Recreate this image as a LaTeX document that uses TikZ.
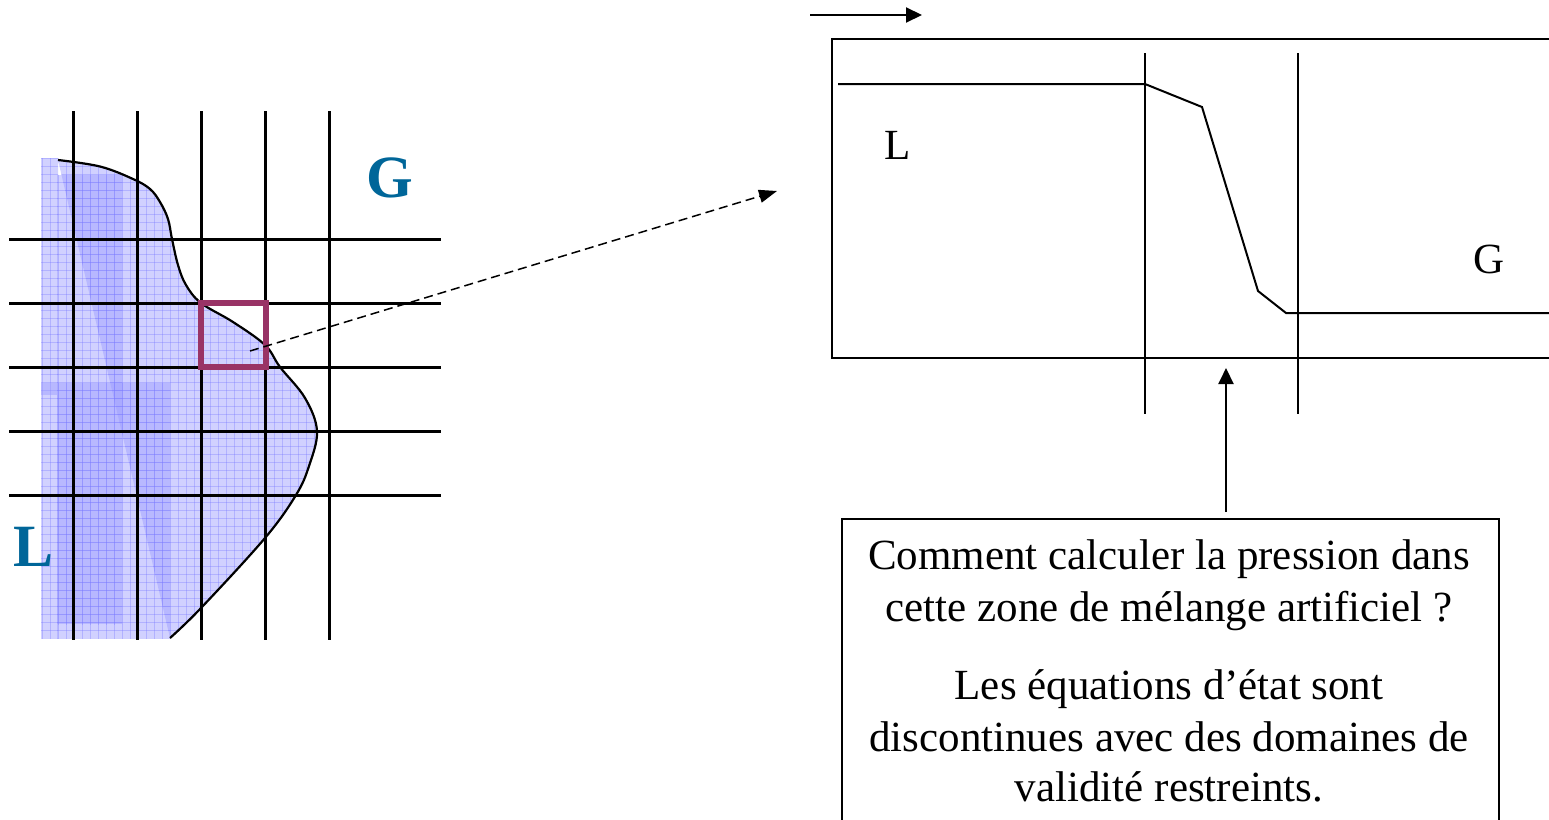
\documentclass[tikz,border=0pt]{standalone}
\usepackage{fontspec}
\setmainfont{Liberation Serif}
\usetikzlibrary{arrows.meta}
\definecolor{lblue}{RGB}{153,153,255}
\definecolor{gridfine}{RGB}{120,120,255}
\definecolor{labblue}{RGB}{0,102,153}
\definecolor{sqred}{RGB}{153,51,102}
\tikzset{
  layer/.style={fill=lblue, fill opacity=0.45},
  finegrid/.style={path picture={
    \foreach \k in {0,...,36}{\draw[gridfine, line width=0.6pt, draw opacity=0.35] ({42+8*\k},150) -- ({42+8*\k},650);}
    \foreach \k in {0,...,62}{\draw[gridfine, line width=0.6pt, draw opacity=0.35] (30,{158+8*\k}) -- (340,{158+8*\k});}
  }},
  meshline/.style={line width=3pt, black},
  frameline/.style={line width=2pt, black},
  bigtext/.style={font=\fontsize{43}{52}\selectfont, inner sep=0pt},
  phase/.style={font=\fontsize{60}{72}\selectfont\bfseries, text=labblue, inner sep=0pt},
  bigarrow/.style={-{Triangle[length=16pt,width=15pt]}, line width=2pt}
}
\begin{document}
\begin{tikzpicture}[x=1pt,y=-1pt]
\useasboundingbox (0,0) rectangle (1549,819);
\clip (0,0) rectangle (1549,819);

% ---- left: interface cells ----
\def\blobpts{(58,160) (100,166.5) (133,179) (150,189) (160,202) (168,219) (172,239) (178,265) (186,285) (201,303) (233,322) (265,345) (280,367) (305,398) (317,431) (309,466) (296,495) (265,538) (201,608) (170,638)}
\fill[layer, finegrid] (41,158) rectangle (58,638);
\fill[layer, finegrid] plot[smooth, tension=0.6] coordinates {\blobpts} -- cycle;
\fill[layer, finegrid] (57,175) rectangle (122,624);
\fill[layer, finegrid] (57,383) rectangle (170,638);
\fill[layer] (41,383) rectangle (57,395);
\draw[line width=2.2pt] plot[smooth, tension=0.6] coordinates {\blobpts};

\foreach \xx in {73,137,201,265,329}{\draw[meshline] (\xx,111) -- (\xx,640);}
\foreach \yy in {239,303,367,431,495}{\draw[meshline] (9,\yy) -- (441,\yy);}

\node[draw=sqred, line width=6pt, minimum size=64.5pt, inner sep=0pt] (sq) at (233.5,335) {};

\node[phase, anchor=base] (gleft) at (390,197) {G};
\node[phase, anchor=base] (lleft) at (34,566) {L};

\coordinate (ds) at (250,351);
\coordinate (de) at (777,191);
\draw[line width=1.5pt, dash pattern=on 9pt off 5pt, -{Triangle[length=18pt,width=13pt]}] (ds) -- (de);

% ---- right: zoomed profile ----
\draw[frameline] (832,39) rectangle (1580,358);
\coordinate (v1t) at (1145,53);
\coordinate (v1b) at (1145,414);
\coordinate (v2t) at (1298,53);
\coordinate (v2b) at (1298,414);
\draw[line width=2.5pt] (v1t) -- (v1b);
\draw[line width=2.5pt] (v2t) -- (v2b);
\draw[frameline, line join=miter] (838,84) -- (1145,84) -- (1202,107) -- (1258,291) -- (1286,313) -- (1580,313);

\node[bigtext, anchor=base] (lright) at (898,159) {L};
\node[bigtext, anchor=base] (gright) at (1489,273) {G};

\coordinate (ta) at (810,15);
\coordinate (tb) at (922,15);
\draw[bigarrow] (ta) -- (tb);

% ---- question box ----
\node[draw, line width=1.5pt, minimum width=657pt, minimum height=330pt, inner sep=0pt, anchor=north west] (box) at (841,518) {};
\coordinate (ua) at (1226,368);
\draw[bigarrow, shorten <=6pt] (box.north -| ua) -- (ua);

\node[bigtext, anchor=base] (t1) at (1169,569) {Comment calculer la pression dans};
\node[bigtext, anchor=base] (t2) at (1169,621) {cette zone de mélange artificiel ?};
\node[bigtext, anchor=base] (t3) at (1169,699) {Les équations d’état sont};
\node[bigtext, anchor=base] (t4) at (1169,751) {discontinues avec des domaines de};
\node[bigtext, anchor=base] (t5) at (1169,801) {validité restreints.};
\end{tikzpicture}
\end{document}
